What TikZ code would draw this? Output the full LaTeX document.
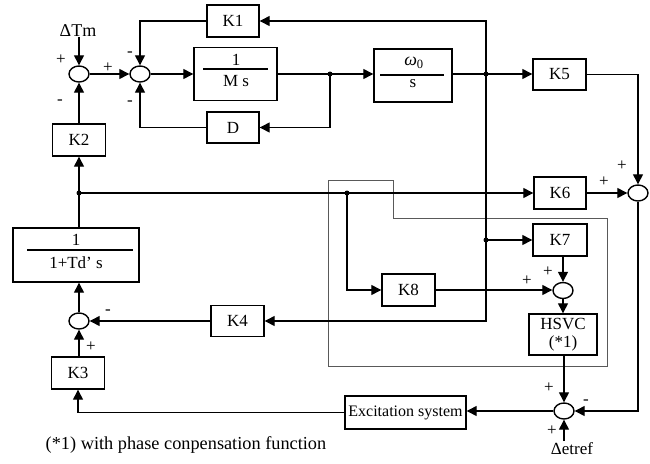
\documentclass[tikz,border=0pt]{standalone}
\usepackage{fontspec}
\setmainfont{Liberation Serif}
\usetikzlibrary{arrows.meta,shapes.geometric}
\begin{document}
\begin{tikzpicture}[x=1pt,y=-1pt,
  blk/.style={draw,line width=1.4pt,inner sep=0pt,font=\fontsize{17}{19}\selectfont},
  sumn/.style={draw,ellipse,line width=1.4pt,minimum width=20pt,minimum height=16pt,inner sep=0pt},
  arr/.style={line width=1.3pt,-{Triangle[length=10pt,width=10pt]}},
  ln/.style={line width=1.3pt},
  sgn/.style={font=\fontsize{17}{17}\selectfont,inner sep=0pt},
  dot/.style={circle,fill,inner sep=0pt,minimum size=5pt},
  lbl/.style={font=\fontsize{17}{19}\selectfont,inner sep=0pt},
  region/.style={draw=black!65,line width=1pt}]
\useasboundingbox (0,0) rectangle (650,463);

% region outline
\draw[region] (328,180) -- (393,180) -- (393,218) -- (607,218) -- (607,366) -- (328,366) -- cycle;

% blocks
\node[blk,minimum width=52pt,minimum height=32pt] (K1) at (233,21) {K1};
\node[blk,minimum width=83pt,minimum height=53pt] (Ms) at (235.5,74) {};
\node[blk,minimum width=52pt,minimum height=31pt] (D) at (233,127.5) {D};
\node[blk,minimum width=78pt,minimum height=53pt] (W) at (413,75.5) {};
\node[blk,minimum width=53pt,minimum height=31pt] (K5) at (559.5,74.5) {K5};
\node[blk,minimum width=52pt,minimum height=32pt] (K6) at (560,193) {K6};
\node[blk,minimum width=53pt,minimum height=32pt] (K2) at (79,140) {K2};
\node[blk,minimum width=126pt,minimum height=54pt] (Td) at (76,255) {};
\node[blk,minimum width=53pt,minimum height=31pt] (K4) at (237.5,321) {K4};
\node[blk,minimum width=53pt,minimum height=32pt] (K3) at (78,373) {K3};
\node[blk,minimum width=54pt,minimum height=32pt] (K7) at (560,240) {K7};
\node[blk,minimum width=53pt,minimum height=32pt] (K8) at (408.5,290) {K8};
\node[blk,minimum width=68pt,minimum height=41pt,align=center] (H) at (563,334.5) {HSVC\\[-1pt](*1)};
\node[blk,minimum width=121pt,minimum height=33pt,font=\fontsize{16}{18}\selectfont] (E) at (405.5,412.5) {Excitation system};

% fraction contents
\node[lbl] (Msn) at (236,60) {1};
\draw[ln] (203,69) -- (268,69);
\node[lbl] (Msd) at (236,81) {M s};
\node[lbl,font=\fontsize{18}{20}\selectfont] (Wn) at (414,63) {\textit{ω}\textsubscript{0}};
\draw[ln] (380,75) -- (444,75);
\node[lbl] (Wd) at (413,84) {s};
\node[lbl] (Tdn) at (76,240) {1};
\draw[ln] (27,250) -- (133,250);
\node[lbl] (Tdd) at (76,263) {1+Td’ s};

% summing points
\node[sumn] (S1) at (79,74) {};
\node[sumn] (S2) at (140,74) {};
\node[sumn] (S3) at (638,193) {};
\node[sumn] (S4) at (79,321) {};
\node[sumn] (S6) at (563,290.5) {};
\node[sumn] (S5) at (564,411) {};

% junctions
\node[dot] (j1) at (330,74) {};
\node[dot] (j2) at (486,74) {};
\node[dot] (j3) at (486,240) {};
\node[dot] (jL) at (79,193) {};
\node[dot] (j4) at (347,193) {};

% inputs
\node[font=\fontsize{18}{20}\selectfont,inner sep=0pt] (dTm) at (78,31) {ΔTm};
\node[font=\fontsize{17}{20}\selectfont,inner sep=0pt] (dE) at (572,449) {Δetref};
\coordinate (dEs) at (564,441);

% signs
\node[sgn] (s1) at (61,60) {+};
\node[sgn] (s2) at (60,102) {-};
\node[sgn] (s3) at (108,68) {+};
\node[sgn] (s4) at (130,54) {-};
\node[sgn] (s5) at (130,103) {-};
\node[sgn] (s6) at (622,166) {+};
\node[sgn] (s7) at (604,182) {+};
\node[sgn] (s8) at (548,272) {+};
\node[sgn] (s9) at (527,281) {+};
\node[sgn] (s10) at (108,312) {-};
\node[sgn] (s11) at (91,347) {+};
\node[sgn] (s12) at (549,388) {+};
\node[sgn] (s13) at (586,402) {-};
\node[sgn] (s14) at (552,431) {+};

% footnote
\node[font=\fontsize{18.3}{20}\selectfont,inner sep=0pt] (fn) at (186,445) {(*1) with phase conpensation function};

% connectors
\draw[arr] (S1.north |- dTm.south) -- (S1.north);
\draw[arr] (S1.east) -- (S2.west);
\draw[arr] (K1.west) -| (S2.north);
\draw[arr] (D.west) -| (S2.south);
\draw[arr] (S2.east) -- (S2.east -| Ms.west);
\draw[ln] (Ms.east |- j1) -- (j1.center);
\draw[arr] (j1.center) -- (j1 -| W.west);
\draw[arr] (j1.center) |- (D.east);
\draw[ln] (W.east |- j2) -- (j2.center);
\draw[arr] (j2.center) -- (j2 -| K5.west);
\draw[arr] (j2.center) |- (K1.east);
\draw[arr] (j2.center) |- (K4.east);
\draw[arr] (j3.center) -- (K7.west);
\draw[arr] (K5.east) -| (S3.north);
\draw[arr] (K6.east) -- (S3.west);
\draw[arr] (S3.south) |- (S5.east);
\draw[arr] (jL.center) -- (K6.west);
\draw[arr] (j4.center) |- (K8.west);
\draw[arr] (K8.east) -- (K8.east -| S6.west);
\draw[arr] (K7.south -| S6.north) -- (S6.north);
\draw[arr] (S6.south) -- (S6.south |- H.north);
\draw[arr] (H.south -| S5.north) -- (S5.north);
\draw[arr] (S5.west) -- (S5.west -| E.east);
\draw[arr] (E.west) -| (K3.south);
\draw[arr] (S4.south |- K3.north) -- (S4.south);
\draw[arr] (K4.west) -- (S4.east);
\draw[arr] (S4.north) -- (S4.north |- Td.south);
\draw[ln] (S4 |- Td.north) -- (jL.center);
\draw[arr] (jL.center) -- (jL |- K2.south);
\draw[arr] (S1.south |- K2.north) -- (S1.south);
\draw[arr] (dEs) -- (S5.south);
\end{tikzpicture}
\end{document}
